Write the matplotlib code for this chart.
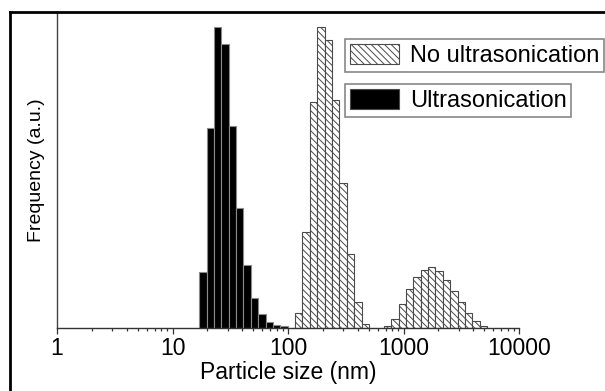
import numpy as np
import matplotlib
matplotlib.use("Agg")
import matplotlib.pyplot as plt
import matplotlib.ticker as ticker
from matplotlib.patches import Patch
from matplotlib.lines import Line2D

plt.rcParams['font.family'] = ['Liberation Sans', 'DejaVu Sans']
plt.rcParams['hatch.linewidth'] = 0.7

# bin edges (nm), log-spaced size classes
size_edges = [17.0, 19.7, 22.8, 26.4, 30.6, 35.5, 41.1, 47.6, 55.2, 64.0,
              74.1, 85.8, 99.5, 115.2, 133.5, 154.7, 179.2, 207.6, 240.6, 278.7,
              322.9, 374.2, 433.6, 502.3, 582.1, 674.4, 781.3, 905.3, 1048.8, 1215.3,
              1408.1, 1631.4, 1890.2, 2190.0, 2537.4, 2940.0, 3406.0, 3947.0, 4573.0, 5298.0]

# frequency (a.u.) per bin
ultra_freq = [56, 200, 301, 284, 202, 120, 63, 30, 14, 6, 3, 2,
              0, 0, 0, 0, 0, 0, 0, 0, 0, 0, 0, 0, 0, 0, 0,
              0, 0, 0, 0, 0, 0, 0, 0, 0, 0, 0, 0]
no_ultra_freq = [0, 0, 0, 0, 0, 0, 0, 0, 0, 0, 0, 0, 0,
                 15, 96, 226, 301, 288, 228, 145, 74, 26, 4.4,
                 0, 0,
                 1.7, 9.4, 24, 38.7, 51.4, 58.4, 60.7, 57, 47.7, 36.7, 26, 15, 7.4, 1.7]

labels = ['No ultrasonication', 'Ultrasonication']
tick_vals = [1, 10, 100, 1000, 10000]

edges = np.array(size_edges)
left = edges[:-1]
width = edges[1:] - edges[:-1]
u = np.array(ultra_freq, dtype=float)
n = np.array(no_ultra_freq, dtype=float)

fig = plt.figure(figsize=(6.05, 3.91), dpi=100)
ax = fig.add_axes([57 / 605, 1 - 328 / 391, (519 - 57) / 605, (328 - 12) / 391])

mu = u > 0
ax.bar(left[mu], u[mu], width=width[mu], align='edge', color='black',
       edgecolor='#8a8a8a', linewidth=0.8)
mn = n > 0
ax.bar(left[mn], n[mn], width=width[mn], align='edge', color='white',
       edgecolor='#4a4a4a', linewidth=0.8, hatch='\\\\\\\\\\')

ax.set_xscale('log')
ax.set_xlim(1, 10000)
ax.set_ylim(0, 316)

ax.set_xticks(tick_vals)
ax.xaxis.set_major_formatter(ticker.FuncFormatter(lambda v, p: f'{v:g}'))
ax.xaxis.set_minor_locator(ticker.LogLocator(base=10, subs=np.arange(2, 10), numticks=20))
ax.xaxis.set_minor_formatter(ticker.NullFormatter())
ax.tick_params(axis='x', which='major', direction='out', length=4.5, width=0.9,
               color='#333333', labelsize=16.5, pad=2)
ax.tick_params(axis='x', which='minor', direction='out', length=2.5, width=0.9,
               color='#333333')
ax.set_yticks([])

for s in ['top', 'right']:
    ax.spines[s].set_visible(False)
ax.spines['left'].set_color('#444444')
ax.spines['bottom'].set_color('#333333')
ax.spines['left'].set_linewidth(1.0)
ax.spines['bottom'].set_linewidth(1.0)

ax.set_xlabel('Particle size (nm)', fontsize=16.5, labelpad=1)
ax.set_ylabel('Frequency (a.u.)', fontsize=14)
ax.yaxis.set_label_coords(-0.026, 0.5)

# two separate legend boxes
h1 = Patch(facecolor='white', edgecolor='#4a4a4a', hatch='\\\\\\\\\\', linewidth=0.8)
h2 = Patch(facecolor='black', edgecolor='#4a4a4a', linewidth=0.8)
leg_kw = dict(loc='upper left', bbox_transform=fig.transFigure, borderaxespad=0,
              fontsize=17, fancybox=False, framealpha=1, edgecolor='#888888',
              handlelength=2.1, handleheight=0.95, handletextpad=0.45, borderpad=0.2)
leg1 = fig.legend([h1], [labels[0]], bbox_to_anchor=(345 / 605, 1 - 39 / 391), **leg_kw)
leg2 = fig.legend([h2], [labels[1]], bbox_to_anchor=(345 / 605, 1 - 84 / 391), **leg_kw)
for lg in (leg1, leg2):
    lg.get_frame().set_linewidth(1.2)

# outer frame (left and top visible in the crop)
fig.add_artist(Line2D([10 / 605, 10 / 605], [0, 1 - 12 / 391], transform=fig.transFigure,
                      color='black', linewidth=2))
fig.add_artist(Line2D([10 / 605, 1], [1 - 12 / 391, 1 - 12 / 391], transform=fig.transFigure,
                      color='black', linewidth=2))

fig.savefig('out.png', dpi=100)
